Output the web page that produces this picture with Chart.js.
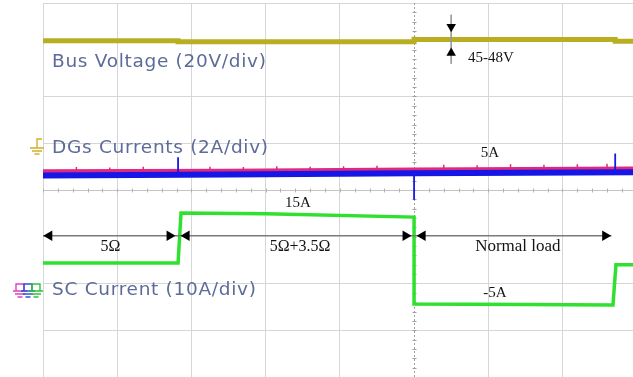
<!DOCTYPE html>
<html>
<head>
<meta charset="utf-8">
<script src="https://cdn.jsdelivr.net/npm/chart.js@4.4.1/dist/chart.umd.min.js"></script>
<style>
  html, body { margin: 0; padding: 0; background: #fff; }
  #scope { display: block; }
</style>
</head>
<body>
<canvas id="scope" width="633" height="377"></canvas>
<script>
// ---- traces, in screen divisions (x: time div, y: vertical div from centre) ----
const busT   = [0, 1.82, 1.82, 5.0, 5.0, 5.0, 7.71, 7.71, 7.95];
const busV   = [3.19, 3.19, 3.17, 3.17, 3.28, 3.22, 3.22, 3.18, 3.18];

const blueT  = [0, 2.5, 5.0, 7.95];
const blueV  = [0.31, 0.33, 0.36, 0.38];
// blue spikes (start/end pairs, null = gap)
const blueSpikeT = [1.82, 1.82, null, 5.0, 5.0, null, 7.71, 7.71];
const blueSpikeV = [0.33, 0.70, null, 0.42, -0.21, null, 0.38, 0.78];

const pinkT  = [0, 2.5, 5.0, 7.95];
const pinkV  = [0.40, 0.41, 0.44, 0.46];
const pinkSpikeT = [0.45, 0.9, 1.35, 2.25, 2.7, 3.15, 3.6, 4.05, 4.5, 5.4, 5.85, 6.3, 6.75, 7.2, 7.6];
const pinkSpikeH = [0.49, 0.48, 0.50, 0.50, 0.49, 0.51, 0.50, 0.51, 0.52, 0.54, 0.53, 0.55, 0.54, 0.55, 0.56];

const greenT = [0, 1.82, 1.86, 3.0, 5.0, 5.0, 6.5, 7.68, 7.72, 7.95];
const greenV = [-1.56, -1.56, -0.49, -0.51, -0.58, -2.44, -2.45, -2.46, -1.60, -1.60];

// load intervals (time div) and their labels
const spanEdges  = [0, 1.82, 5.0, 7.69];
const spanLabels = ["5\u03A9", "5\u03A9+3.5\u03A9", "Normal load"];

// level notes
const noteBus = "45-48V";
const noteDG  = "5A";
const noteSC  = ["15A", "-5A"];
const chLabels = ["Bus Voltage (20V/div)", "DGs Currents (2A/div)", "SC Current (10A/div)"];

const pts = (t, v) => t.map((x, i) => ({ x, y: v[i] }));
const spikes = (t, base, h) => {
  const out = [];
  t.forEach((x, i) => { out.push({ x, y: base }, { x, y: h[i] }, { x, y: null }); });
  return out;
};

// arrow markers built from the span edges
const ARW = 0.085;     // arrow head offset in div
const arrowY = -0.98;
const arrowPts = [];
const arrowRot = [];
for (let i = 0; i < spanLabels.length; i++) {
  arrowPts.push({ x: spanEdges[i] + ARW + (i ? 0.03 : 0), y: arrowY }); arrowRot.push(-90);
  arrowPts.push({ x: spanEdges[i + 1] - ARW - 0.03, y: arrowY }); arrowRot.push(90);
}

const overlay = {
  id: "overlay",
  beforeDatasetsDraw(chart) {
    const { ctx, chartArea: a, scales: { x, y } } = chart;
    ctx.save();
    // centre horizontal line with minor ticks
    const cy = Math.round(y.getPixelForValue(0)) + 0.5;
    ctx.strokeStyle = "#c4c4c4";
    ctx.lineWidth = 1;
    ctx.beginPath(); ctx.moveTo(a.left, cy); ctx.lineTo(a.right, cy); ctx.stroke();
    ctx.strokeStyle = "#b4b4b4";
    for (let d = 0; d < 8; d += 0.2) {
      const px = Math.round(x.getPixelForValue(d)) + 0.5;
      ctx.beginPath(); ctx.moveTo(px, cy - 2); ctx.lineTo(px, cy + 2); ctx.stroke();
    }
    // centre vertical line, dotted
    const cx = Math.round(x.getPixelForValue(5)) + 0.5;
    ctx.strokeStyle = "#a0a0a0";
    ctx.setLineDash([2, 2]);
    ctx.beginPath(); ctx.moveTo(cx, a.top); ctx.lineTo(cx, a.bottom); ctx.stroke();
    ctx.setLineDash([]);
    for (let d = -4; d < 4; d += 0.2) {
      const py = Math.round(y.getPixelForValue(d)) + 0.5;
      ctx.beginPath(); ctx.moveTo(cx - 2, py); ctx.lineTo(cx + 2, py); ctx.stroke();
    }
    ctx.restore();
  },
  afterDatasetsDraw(chart) {
    const { ctx, scales: { x, y } } = chart;
    ctx.save();
    ctx.textBaseline = "middle";

    // channel labels
    ctx.fillStyle = "#5d6b98";
    ctx.font = "18.5px 'DejaVu Sans'";
    ctx.letterSpacing = "0.7px";
    ctx.textAlign = "left";
    ctx.fillText(chLabels[0], 52, 62);
    ctx.fillText(chLabels[1], 52, 148);
    ctx.fillText(chLabels[2], 52, 290);
    ctx.letterSpacing = "0px";

    // serif notes
    ctx.fillStyle = "#141414";
    ctx.font = "15px 'Liberation Serif'";
    ctx.fillText(noteBus, 468, 58);
    ctx.textAlign = "center";
    ctx.fillText(noteDG, 490, 153);
    ctx.fillText(noteSC[0], 298, 203);
    ctx.fillText(noteSC[1], 495, 293);
    ctx.font = "16px 'Liberation Serif'";
    const ly = y.getPixelForValue(arrowY) + 11;
    spanLabels.forEach((s, i) => {
      const mid = x.getPixelForValue((spanEdges[i] + spanEdges[i + 1]) / 2);
      if (i === 2) ctx.font = "17px 'Liberation Serif'";
      ctx.fillText(s, mid + (i === 0 ? 0 : 4), ly);
    });

    // ground markers
    const gnd = (c, top, col) => {
      ctx.strokeStyle = col; ctx.lineWidth = 1.4;
      ctx.beginPath();
      ctx.moveTo(c - 7, top + 10); ctx.lineTo(c + 7, top + 10);
      ctx.moveTo(c - 5, top + 13); ctx.lineTo(c + 5, top + 13);
      ctx.moveTo(c - 2.5, top + 16); ctx.lineTo(c + 2.5, top + 16);
      ctx.stroke();
    };
    // yellow (DG label)
    gnd(37, 138, "#d2b02a");
    ctx.beginPath();
    ctx.moveTo(37, 148); ctx.lineTo(37, 139); ctx.lineTo(42, 139);
    ctx.stroke();
    // magenta / blue / green (SC label)
    [[20, "#e040c0"], [28, "#3050e0"], [36, "#30c040"]].forEach(([c, col]) => {
      gnd(c, 281, col);
      ctx.beginPath();
      ctx.moveTo(c - 4, 291); ctx.lineTo(c - 4, 284); ctx.lineTo(c + 4, 284); ctx.lineTo(c + 4, 291);
      ctx.stroke();
    });
    ctx.restore();
  }
};

const hideLine = (v) => Math.abs(v - Math.round(v)) > 1e-6;

new Chart(document.getElementById("scope"), {
  type: "scatter",
  data: {
    datasets: [
      { data: arrowPts, showLine: false, pointStyle: "triangle", pointRadius: 6,
        pointRotation: arrowRot, backgroundColor: "#000", borderColor: "#000", borderWidth: 0 },
      { data: [{ x: 5.5, y: 3.49 }, { x: 5.5, y: 2.93 }], showLine: false, pointStyle: "triangle",
        pointRadius: 5.5, pointRotation: [180, 0], backgroundColor: "#000", borderColor: "#000", borderWidth: 0 },
      { data: [{ x: 5.5, y: 3.75 }, { x: 5.5, y: 2.7 }], showLine: true, pointRadius: 0,
        borderColor: "#9a9a9a", borderWidth: 1 },
      { data: [{ x: spanEdges[0], y: arrowY }, { x: spanEdges[3] - 0.03, y: arrowY }], showLine: true,
        pointRadius: 0, borderColor: "#7a7a7a", borderWidth: 1.5 },
      { data: pts(busT, busV), showLine: true, pointRadius: 0, borderColor: "#b8ae22", borderWidth: 5 },
      { data: pts(greenT, greenV), showLine: true, pointRadius: 0, borderColor: "#2fe02f", borderWidth: 3.5 },
      { data: pts(blueSpikeT, blueSpikeV), showLine: true, pointRadius: 0, borderColor: "#1818e8", borderWidth: 1.8 },
      { data: pts(blueT, blueV), showLine: true, pointRadius: 0, borderColor: "#1616e6", borderWidth: 6 },
      { data: spikes(pinkSpikeT, 0.42, pinkSpikeH), showLine: true, pointRadius: 0, borderColor: "#e0287e", borderWidth: 1.5 },
      { data: pts(pinkT, pinkV), showLine: true, pointRadius: 0, borderColor: "#e0287e", borderWidth: 4 }
    ]
  },
  options: {
    responsive: false,
    animation: false,
    events: [],
    layout: { autoPadding: false, padding: { left: 43, top: 3, right: 0, bottom: 0 } },
    plugins: { legend: { display: false }, tooltip: { enabled: false } },
    scales: {
      x: {
        type: "linear", min: 0, max: 7.95,
        ticks: { display: false, stepSize: 1 },
        grid: { drawTicks: false, color: (c) => (hideLine(c.tick.value) || c.tick.value === 5) ? "rgba(0,0,0,0)" : "#d6d6d6" },
        border: { display: false }
      },
      y: {
        type: "linear", min: -4, max: 4,
        ticks: { display: false, stepSize: 1 },
        grid: { drawTicks: false, color: (c) => [0, 3, -1].includes(c.tick.value) ? "rgba(0,0,0,0)" : "#d6d6d6" },
        border: { display: false }
      }
    }
  },
  plugins: [overlay]
});
</script>
</body>
</html>
